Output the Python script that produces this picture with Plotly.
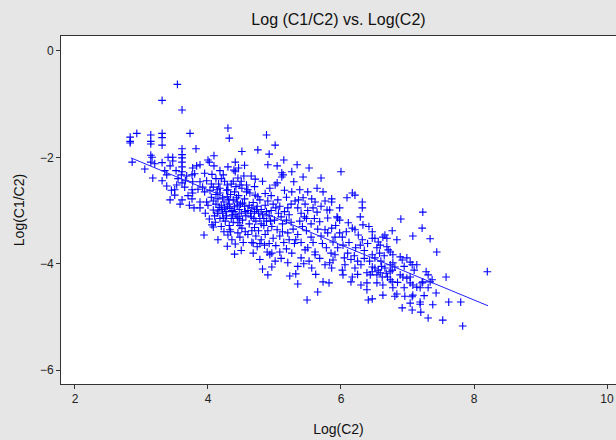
import plotly.graph_objects as go

# Scatter points: Log(C2) and Log(C1/C2)
pts = [
    # upper outliers / left edge
    (3.54,-0.63),(3.31,-0.93),(3.61,-1.11),(2.83,-1.62),(2.83,-1.70),(2.83,-1.73),(2.93,-1.55),
    (3.14,-1.58),(3.14,-1.70),(3.14,-1.75),(3.31,-1.55),(3.31,-1.63),(3.31,-1.77),(3.73,-1.55),
    (4.30,-1.45),(4.32,-1.64),(2.86,-2.09),(3.14,-1.96),(3.16,-2.00),(3.14,-2.09),(3.20,-2.12),
    (3.17,-2.39),(3.05,-2.22),
    # region A
    (3.31,-2.10),(3.31,-2.44),(3.38,-2.33),(3.38,-2.54),(3.40,-2.00),(3.47,-2.00),(3.47,-2.07),
    (3.43,-2.16),(3.53,-2.52),(3.50,-2.61),(3.61,-2.48),(3.65,-2.56),(3.60,-2.33),(3.68,-2.35),
    (3.76,-2.33),(3.80,-2.31),(3.77,-2.46),(3.76,-2.61),(3.77,-2.67),(3.77,-2.20),(3.83,-2.16),
    (3.88,-2.14),(3.61,-1.84),(3.61,-1.95),(3.61,-2.01),(3.61,-2.09),(3.61,-2.18),(3.61,-2.27),
    (3.82,-1.84),(3.43,-2.80),(3.50,-2.71),(3.61,-2.80),(3.76,-2.78),(3.88,-2.84),(3.88,-2.46),
    (3.92,-2.56),(3.55,-2.40),(3.70,-2.72),(3.45,-2.62),(3.35,-2.25),(3.58,-2.88),(3.85,-2.60),
    (3.66,-2.44),(3.72,-2.90),(3.52,-2.25),
    # region B
    (3.98,-2.44),(4.00,-2.05),(4.02,-2.09),(4.09,-1.97),(4.09,-2.16),(4.08,-2.56),(4.14,-2.61),
    (4.18,-2.58),(4.23,-2.33),(4.29,-2.52),(4.30,-2.61),(4.45,-2.39),(4.48,-2.52),(4.51,-2.58),
    (4.41,-2.09),(4.39,-2.24),(4.41,-2.27),(4.51,-1.89),(3.98,-2.84),(4.08,-2.82),(4.18,-2.67),
    (4.29,-2.74),(4.38,-2.80),(4.44,-2.84),(3.79,-2.95),(3.88,-2.95),(4.08,-2.99),(4.15,-3.01),
    (4.14,-3.05),(4.02,-3.16),(4.08,-3.31),(4.06,-3.27),(3.94,-3.46),(4.30,-3.46),(4.29,-3.67),
    (4.41,-3.63),(4.33,-3.36),(4.45,-3.42),(4.48,-3.50),(4.51,-3.33),(4.45,-3.23),
    (4.20,-2.90),(4.25,-2.95),(4.32,-2.88),(4.36,-3.00),(4.40,-2.93),(4.42,-3.08),(4.47,-2.98),
    (4.50,-3.05),(4.55,-2.92),(4.28,-3.10),(4.22,-3.05),(4.35,-3.15),(4.52,-3.18),(4.57,-3.10),
    (4.38,-3.22),(4.26,-3.20),(4.18,-3.15),(4.12,-2.88),(4.05,-2.75),(4.15,-2.78),(4.24,-2.84),
    (4.34,-2.70),(4.40,-2.65),(4.46,-2.72),(4.55,-2.78),(4.58,-2.65),(4.50,-2.45),(4.42,-2.55),
    (4.35,-2.50),(4.25,-2.45),(4.20,-2.40),(4.12,-2.40),(4.05,-2.50),(3.95,-2.65),(4.00,-2.90),
    (3.96,-3.05),(4.10,-3.10),(4.48,-3.28),(4.56,-3.40),(4.32,-3.28),(4.20,-3.30),(4.58,-2.52),
    (4.54,-2.35),(4.46,-2.20),(4.60,-3.00),(4.38,-2.45),(4.28,-2.62),(4.16,-2.50),(4.03,-2.62),
    (4.44,-3.12),(4.24,-3.40),(4.15,-3.55),(4.36,-3.55),(4.53,-3.60),(4.50,-3.75),(4.40,-3.82),
    (4.18,-2.25),(4.06,-2.32),(3.95,-2.30),(4.30,-2.18),(4.55,-2.15),
    (4.33,-2.96),(4.44,-2.90),(4.27,-3.02),(4.52,-2.86),(4.37,-3.08),(4.21,-2.98),(4.47,-3.15),
    (4.12,-2.70),(4.22,-2.76),(4.31,-2.80),(4.43,-2.76),(4.49,-2.88),(4.17,-2.94),(4.29,-2.92),
    (4.39,-3.02),(4.56,-3.02),(4.11,-3.22),(4.23,-3.14),(4.34,-3.40),
    # region C
    (4.60,-2.61),(4.63,-2.67),(4.71,-2.71),(4.75,-2.74),(4.78,-2.80),(4.71,-2.41),(4.88,-1.58),
    (5.01,-1.77),(4.75,-1.86),(4.92,-1.94),(5.14,-2.05),(4.90,-2.14),(5.04,-2.16),(5.26,-2.27),
    (5.11,-2.29),(5.13,-2.33),(5.11,-2.37),(5.04,-2.48),(5.01,-2.52),(5.29,-2.46),(4.93,-2.58),
    (5.26,-2.65),(5.05,-2.80),(5.31,-2.82),(4.90,-4.21),(5.23,-4.23),(5.32,-4.19),(5.35,-4.38),
    (4.96,-4.06),(5.01,-3.95),(4.93,-3.83),(5.26,-3.80),(4.89,-3.78),(4.96,-3.80),
    (4.62,-2.90),(4.66,-2.95),(4.70,-3.02),(4.68,-2.85),(4.74,-2.92),(4.80,-2.98),(4.82,-3.08),
    (4.78,-3.15),(4.72,-3.20),(4.65,-3.12),(4.62,-3.25),(4.70,-3.32),(4.76,-3.38),(4.84,-3.28),
    (4.88,-3.20),(4.92,-3.10),(4.95,-3.00),(4.86,-2.90),(4.90,-2.82),(4.98,-2.88),(5.02,-2.95),
    (5.06,-3.05),(5.10,-3.12),(5.00,-3.18),(4.96,-3.30),(5.04,-3.36),(5.12,-3.25),(5.18,-3.18),
    (5.15,-3.02),(5.20,-2.95),(5.22,-3.08),(5.25,-3.22),(5.28,-3.35),(5.20,-3.42),(5.08,-3.48),
    (4.98,-3.52),(4.86,-3.45),(4.80,-3.55),(4.72,-3.48),(4.66,-3.60),(4.74,-3.68),(4.85,-3.65),
    (4.92,-3.62),(5.02,-3.66),(5.14,-3.60),(5.22,-3.55),(5.30,-3.62),(5.18,-3.72),(5.08,-3.78),
    (4.68,-3.80),(4.78,-3.92),(5.10,-3.90),(5.20,-3.98),(4.82,-4.10),(4.70,-2.55),(4.82,-2.45),
    (4.86,-2.68),(4.95,-2.72),(5.15,-2.62),(5.18,-2.75),(5.25,-2.88),(4.65,-2.35),(4.60,-3.45),
    (4.68,-3.61),(4.64,-3.05),(4.76,-3.05),(4.88,-3.02),(4.73,-2.98),(4.84,-3.15),(4.94,-3.20),
    (5.08,-2.92),(4.69,-3.15),(4.80,-3.25),(4.66,-3.38),(4.90,-3.38),(5.12,-3.40),(4.78,-3.62),
    # region D
    (5.34,-2.14),(5.52,-2.20),(5.43,-2.37),(5.70,-2.39),(6.00,-2.27),(5.38,-2.61),(5.50,-2.65),
    (5.64,-2.58),(5.73,-2.65),(5.43,-2.76),(5.56,-2.78),(5.61,-2.84),(5.76,-2.82),(5.86,-2.78),
    (5.86,-2.84),(5.49,-4.68),(5.65,-4.53),(5.73,-4.34),(5.82,-4.36),(5.56,-4.08),(5.44,-4.00),
    (5.40,-3.89),(5.76,-4.02),(5.83,-3.98),(5.86,-4.08),(5.88,-3.93),(5.91,-3.83),(5.46,-3.74),
    (5.50,-3.70),(5.61,-3.78),(5.61,-3.83),(5.94,-3.12),(5.95,-3.14),(5.98,-3.18),(5.76,-3.36),
    (5.80,-3.42),(5.86,-3.33),(5.91,-3.50),(5.88,-3.59),(5.68,-3.21),(5.79,-2.99),(5.83,-2.99),
    (5.98,-2.95),(5.80,-3.14),(5.64,-3.03),(5.58,-2.95),
    (5.35,-2.95),(5.40,-3.05),(5.45,-3.12),(5.50,-3.00),(5.38,-3.20),(5.42,-3.30),(5.48,-3.38),
    (5.55,-3.25),(5.60,-3.15),(5.65,-3.35),(5.70,-3.48),(5.55,-3.50),(5.35,-3.45),(5.32,-3.55),
    (5.40,-3.60),(5.72,-3.62),(5.78,-3.70),(5.68,-3.90),(5.52,-3.95),(5.35,-4.05),(5.95,-3.70),
    (5.98,-3.42),(5.36,-2.80),(5.46,-2.88),(5.70,-2.92),(5.92,-3.28),(5.85,-3.80),(5.62,-4.20),
    (5.58,-3.60),(5.48,-3.15),
    # region E
    (6.17,-2.67),(6.21,-2.71),(6.09,-2.76),(6.32,-2.84),(6.02,-4.12),(6.03,-4.21),(6.06,-4.02),
    (6.05,-3.89),(6.17,-4.25),(6.15,-4.34),(6.21,-4.08),(6.39,-4.17),(6.39,-4.36),(6.39,-4.49),
    (6.41,-4.68),(6.29,-3.12),(6.32,-2.95),(6.33,-3.27),(6.11,-3.23),(6.17,-3.33),(6.21,-3.36),
    (6.26,-3.46),(6.32,-3.55),(6.29,-3.65),(6.02,-3.50),(6.03,-3.65),(6.47,-3.40),(6.47,-3.52),
    (6.51,-3.52),(6.63,-3.50),(6.66,-3.46),(6.69,-3.52),(6.56,-3.59),(6.59,-3.65),(6.54,-3.70),
    (6.69,-3.68),(6.71,-3.74),(6.74,-3.78),(6.47,-3.83),(6.51,-3.89),(6.47,-4.06),(6.51,-4.08),
    (6.47,-4.15),(6.44,-4.21),(6.78,-3.83),(6.74,-4.02),(6.78,-3.98),(6.66,-4.08),(6.74,-4.15),
    (6.77,-4.12),(6.54,-4.21),(6.62,-4.25),(6.59,-4.17),(6.56,-4.12),(6.63,-4.40),(6.54,-4.36),
    (6.74,-4.30),(6.77,-4.34),(6.78,-4.45),(6.63,-4.59),(6.47,-4.66),(6.77,-3.38),
    (6.10,-3.80),(6.15,-3.92),(6.20,-3.85),(6.25,-3.95),(6.30,-4.02),(6.35,-3.90),(6.12,-3.60),
    (6.22,-3.70),(6.35,-3.75),(6.40,-3.62),(6.08,-3.40),(6.42,-3.30),(6.25,-4.20),(6.30,-4.40),
    (6.60,-3.95),(6.65,-3.85),(6.70,-4.25),(6.58,-3.80),(6.43,-3.95),(6.68,-4.18),(6.61,-4.05),
    # region F
    (7.23,-3.03),(6.90,-3.16),(7.22,-3.33),(7.08,-3.48),(7.34,-3.53),(6.84,-3.55),(7.44,-3.78),
    (6.89,-3.87),(6.92,-3.93),(6.99,-3.89),(7.04,-3.97),(7.07,-4.02),(7.14,-4.02),(6.81,-4.06),
    (6.89,-4.21),(6.93,-4.25),(6.99,-4.27),(7.04,-4.25),(7.04,-4.36),(7.08,-4.40),(7.14,-4.44),
    (7.31,-4.21),(7.34,-4.34),(7.31,-4.45),(7.37,-4.30),(7.23,-4.34),(7.19,-4.45),(7.22,-4.36),
    (7.58,-4.25),(7.43,-4.55),(6.81,-4.61),(6.84,-4.57),(6.96,-4.61),(7.07,-4.62),(7.08,-4.59),
    (7.04,-4.74),(7.19,-4.72),(7.19,-4.76),(7.38,-4.77),(6.92,-4.83),(7.07,-4.87),(7.20,-4.91),
    (7.31,-5.02),(7.53,-5.06),(7.62,-4.72),(7.80,-4.72),(7.83,-5.17),(8.20,-4.15),
    (6.95,-4.05),(7.10,-4.12),(6.85,-4.35),(6.95,-4.45),(7.25,-4.60),(7.28,-4.15),
]

log_c2 = [p[0] for p in pts]
log_ratio = [p[1] for p in pts]

# Fitted line endpoints
fit_x = [2.84, 8.21]
fit_y = [-2.01, -4.79]

x_ticks = [2, 4, 6, 8, 10]
y_ticks = [0, -2, -4, -6]

fig = go.Figure()
fig.add_trace(go.Scatter(
    x=log_c2, y=log_ratio, mode="markers",
    marker=dict(symbol="cross-thin", size=5.5, line=dict(color="#0000ff", width=1.1)),
    showlegend=False, hoverinfo="skip"))
fig.add_trace(go.Scatter(
    x=fit_x, y=fit_y, mode="lines",
    line=dict(color="#2020ff", width=1),
    showlegend=False, hoverinfo="skip"))

axis_common = dict(showgrid=False, zeroline=False, showline=True, linecolor="#333333",
                   linewidth=1, mirror=True, ticks="outside", ticklen=4, tickcolor="#333333",
                   automargin=False,
                   tickfont=dict(family="Liberation Sans, Arial, sans-serif", size=12, color="#222222"))

fig.update_layout(
    width=616, height=440,
    margin=dict(l=61, r=0, t=36, b=56),
    paper_bgcolor="#e6e6e6", plot_bgcolor="#ffffff",
    font=dict(family="Liberation Sans, Arial, sans-serif", color="#111111"),
    title=dict(text="Log (C1/C2) vs. Log(C2)", x=0.5, xref="paper", y=1 - 19 / 440,
               yref="container", yanchor="middle", font=dict(size=16, color="#111111")),
    xaxis=dict(range=[1.79, 10.135], tickvals=x_ticks,
               title=dict(text="Log(C2)", font=dict(size=14), standoff=18), **axis_common),
    yaxis=dict(range=[-6.26, 0.28], tickvals=y_ticks,
               title=dict(text="Log(C1/C2)", font=dict(size=14), standoff=12), **axis_common),
)

fig.write_html("out.html", config={"displayModeBar": False},
               post_script="document.body.style.margin='0';document.body.style.overflow='hidden';")
